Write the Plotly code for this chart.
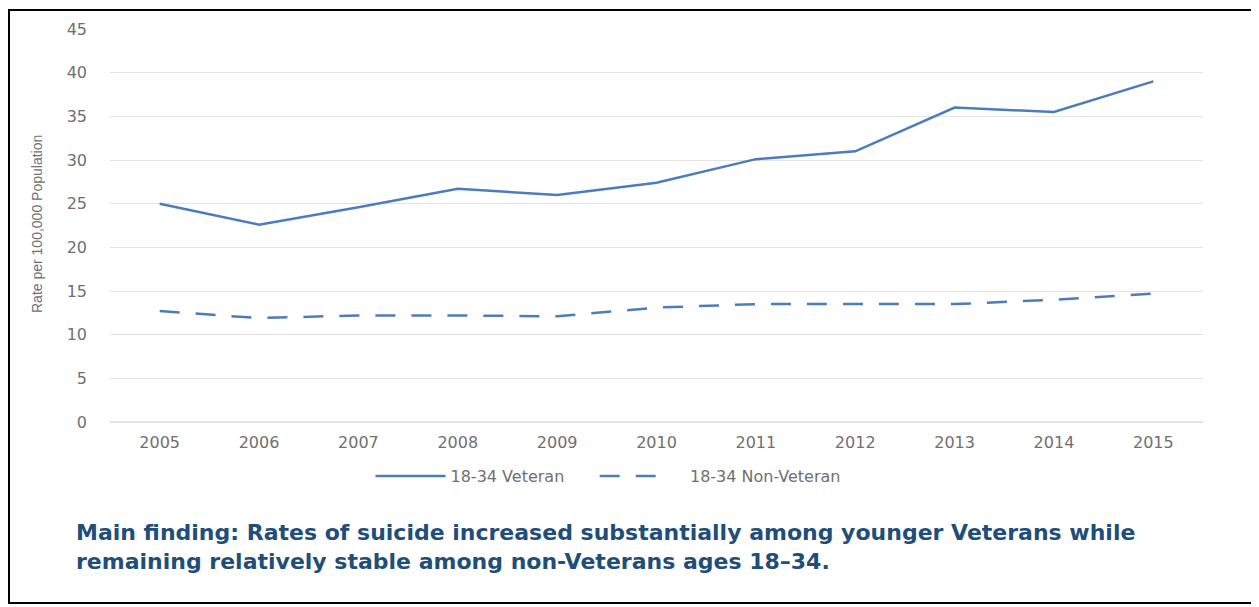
import plotly.graph_objects as go

years = ["2005", "2006", "2007", "2008", "2009", "2010", "2011", "2012", "2013", "2014", "2015"]
veteran = [25.0, 22.6, 24.6, 26.7, 26.0, 27.4, 30.1, 31.0, 36.0, 35.5, 39.0]
non_veteran = [12.7, 11.9, 12.2, 12.2, 12.1, 13.1, 13.5, 13.5, 13.5, 14.0, 14.7]
y_ticks = [0, 5, 10, 15, 20, 25, 30, 35, 40, 45]

OFF = 8  # default page body margin
W, H = 1259 - OFF, 607 - OFF
L, R, T, B = 110 - OFF, 1203 - OFF, 29 - OFF, 422 - OFF

def px(x):
    return (x - OFF - L) / (R - L)

def py(y):
    return (B - (y - OFF)) / (B - T)

line_color = "#4d7cba"
tick_color = "#707070"
tick_font = dict(family="DejaVu Sans", size=16, color=tick_color)

fig = go.Figure()
fig.add_trace(go.Scatter(x=years, y=veteran, mode="lines", name="18-34 Veteran\u00a0\u00a0\u00a0\u00a0\u00a0",
                         line=dict(color=line_color, width=2.5)))
fig.add_trace(go.Scatter(x=years, y=non_veteran, mode="lines", name="\u00a0\u00a0\u00a018-34 Non-Veteran",
                         line=dict(color=line_color, width=2.5, dash="20px,16px")))

fig.update_layout(
    width=W, height=H,
    margin=dict(l=L, r=W - R, t=T, b=H - B),
    paper_bgcolor="white", plot_bgcolor="white",
    font=dict(family="DejaVu Sans", color=tick_color, size=16),
    legend=dict(orientation="h", x=px(608), xanchor="center", y=py(476), yanchor="middle",
                font=dict(family="DejaVu Sans", size=16, color=tick_color), itemwidth=70, tracegroupgap=0),
    showlegend=True,
)
fig.update_xaxes(type="category", range=[-0.5, len(years) - 0.5], showgrid=False, showline=False,
                 zeroline=False, ticks="", ticklabelstandoff=9, tickfont=tick_font)
fig.update_yaxes(range=[0, 45], tickvals=y_ticks, showgrid=True, gridcolor="#e3e3e3", gridwidth=1,
                 zeroline=True, zerolinecolor="#e3e3e3", showline=False, ticks="",
                 ticklabelstandoff=22, tickfont=tick_font)

fig.add_annotation(xref="paper", yref="paper", x=px(37), y=py(224), text="Rate per 100,000 Population",
                   textangle=-90, showarrow=False, xanchor="center", yanchor="middle",
                   font=dict(family="Liberation Sans Narrow, Arial Narrow, sans-serif", size=14, color=tick_color))

caption_font = dict(family="DejaVu Sans", size=22, color="#1f4e79")
fig.add_annotation(xref="paper", yref="paper", x=px(74), y=py(532), align="left",
                   text="<b>Main finding: Rates of suicide increased substantially among younger Veterans while</b>",
                   showarrow=False, xanchor="left", yanchor="middle", font=caption_font)
fig.add_annotation(xref="paper", yref="paper", x=px(74), y=py(561), align="left",
                   text="<b>remaining relatively stable among non-Veterans ages 18\u201334.</b>",
                   showarrow=False, xanchor="left", yanchor="middle", font=caption_font)

fig.add_shape(type="rect", xref="paper", yref="paper", x0=px(9), x1=px(1256), y0=py(603), y1=py(10),
              line=dict(color="black", width=2), fillcolor="rgba(0,0,0,0)")

fig.write_html("out.html")
